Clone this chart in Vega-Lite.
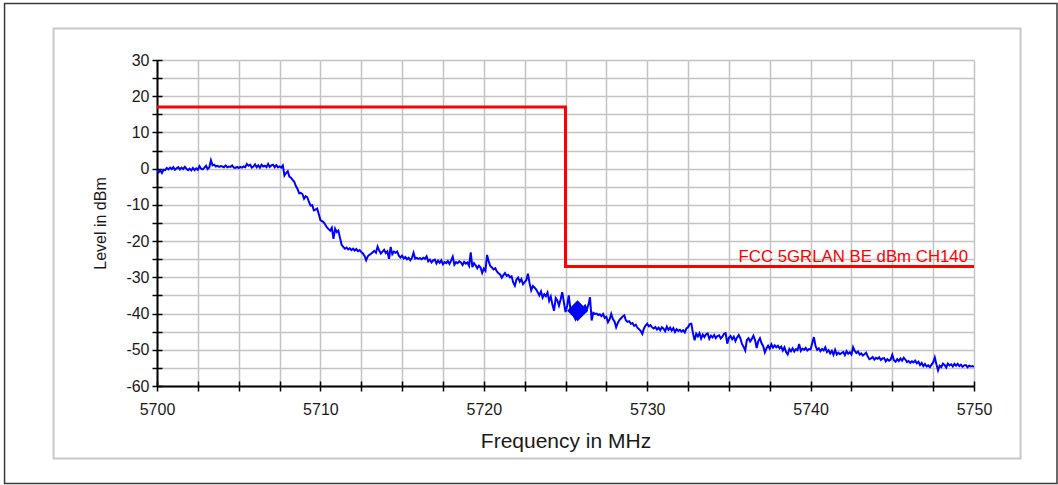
{
  "$schema": "https://vega.github.io/schema/vega-lite/v6.json",
  "autosize": {"type": "none"},
  "padding": {"left": 157, "top": 60, "right": 84, "bottom": 99},
  "width": 817,
  "height": 326,
  "background": "#ffffff",
  "config": {
    "font": "Liberation Sans",
    "view": {"stroke": null}
  },
  "datasets": {
    "limit": [
      {"f": 5700, "v": 17},
      {"f": 5725, "v": -27},
      {"f": 5750, "v": -27}
    ],
    "marker": [
      {"f": 5725.74, "v": -39.2}
    ],
    "label": [
      {"f": 5750, "v": -27, "label": "FCC 5GRLAN BE dBm CH140"}
    ],
    "trace": [
      {"f":5700.0,"v":-0.3},{"f":5700.1,"v":-1.0},{"f":5700.2,"v":-0.5},{"f":5700.3,"v":-1.2},{"f":5700.4,"v":-0.3},{"f":5700.5,"v":-0.4},{"f":5700.6,"v":0.2},{"f":5700.7,"v":-0.2},{"f":5700.8,"v":0.3},{"f":5700.9,"v":-0.1},
      {"f":5701.0,"v":0.4},{"f":5701.1,"v":-0.3},{"f":5701.2,"v":0.1},{"f":5701.3,"v":0.4},{"f":5701.4,"v":-0.2},{"f":5701.5,"v":0.3},{"f":5701.6,"v":-0.1},{"f":5701.7,"v":0.5},{"f":5701.8,"v":0.0},{"f":5701.9,"v":-0.4},
      {"f":5702.0,"v":0.0},{"f":5702.1,"v":-0.5},{"f":5702.2,"v":0.2},{"f":5702.3,"v":-0.4},{"f":5702.4,"v":0.1},{"f":5702.5,"v":-0.3},{"f":5702.6,"v":0.7},{"f":5702.7,"v":0.0},{"f":5702.8,"v":-0.2},{"f":5702.9,"v":0.3},
      {"f":5703.0,"v":0.8},{"f":5703.1,"v":-0.1},{"f":5703.2,"v":0.3},{"f":5703.3,"v":2.3},{"f":5703.4,"v":0.9},{"f":5703.5,"v":1.1},{"f":5703.6,"v":0.6},{"f":5703.7,"v":0.8},{"f":5703.8,"v":0.5},{"f":5703.9,"v":0.7},
      {"f":5704.0,"v":0.6},{"f":5704.1,"v":0.4},{"f":5704.2,"v":0.9},{"f":5704.3,"v":0.4},{"f":5704.4,"v":0.6},{"f":5704.5,"v":0.5},{"f":5704.6,"v":0.9},{"f":5704.7,"v":0.3},{"f":5704.8,"v":0.2},{"f":5704.9,"v":0.5},
      {"f":5705.0,"v":0.2},{"f":5705.1,"v":0.5},{"f":5705.2,"v":0.3},{"f":5705.3,"v":0.6},{"f":5705.4,"v":0.4},{"f":5705.5,"v":1.3},{"f":5705.6,"v":0.8},{"f":5705.7,"v":1.1},{"f":5705.8,"v":0.3},{"f":5705.9,"v":0.6},
      {"f":5706.0,"v":1.2},{"f":5706.1,"v":0.4},{"f":5706.2,"v":0.9},{"f":5706.3,"v":0.3},{"f":5706.4,"v":1.1},{"f":5706.5,"v":0.6},{"f":5706.6,"v":0.8},{"f":5706.7,"v":0.4},{"f":5706.8,"v":1.3},{"f":5706.9,"v":0.5},
      {"f":5707.0,"v":0.9},{"f":5707.1,"v":1.1},{"f":5707.2,"v":0.4},{"f":5707.3,"v":1.0},{"f":5707.4,"v":0.4},{"f":5707.5,"v":0.6},{"f":5707.6,"v":0.3},{"f":5707.7,"v":0.9},{"f":5707.8,"v":-1.9},{"f":5707.9,"v":-1.2},
      {"f":5708.0,"v":-0.7},{"f":5708.1,"v":-2.2},{"f":5708.2,"v":-2.5},{"f":5708.3,"v":-3.1},{"f":5708.4,"v":-3.6},{"f":5708.5,"v":-4.8},{"f":5708.6,"v":-5.6},{"f":5708.7,"v":-6.8},{"f":5708.8,"v":-6.7},{"f":5708.9,"v":-7.0},
      {"f":5709.0,"v":-8.3},{"f":5709.1,"v":-7.6},{"f":5709.2,"v":-7.9},{"f":5709.3,"v":-9.2},{"f":5709.4,"v":-10.2},{"f":5709.5,"v":-10.1},{"f":5709.6,"v":-11.5},{"f":5709.7,"v":-11.3},{"f":5709.8,"v":-11.0},{"f":5709.9,"v":-12.5},
      {"f":5710.0,"v":-14.2},{"f":5710.1,"v":-14.5},{"f":5710.2,"v":-14.8},{"f":5710.3,"v":-15.5},{"f":5710.4,"v":-16.2},{"f":5710.5,"v":-16.7},{"f":5710.6,"v":-17.1},{"f":5710.7,"v":-16.3},{"f":5710.8,"v":-19.4},{"f":5710.9,"v":-16.6},
      {"f":5711.0,"v":-17.5},{"f":5711.1,"v":-17.1},{"f":5711.2,"v":-19.1},{"f":5711.3,"v":-21.0},{"f":5711.4,"v":-21.6},{"f":5711.5,"v":-22.1},{"f":5711.6,"v":-21.8},{"f":5711.7,"v":-22.3},{"f":5711.8,"v":-22.0},{"f":5711.9,"v":-22.5},
      {"f":5712.0,"v":-22.1},{"f":5712.1,"v":-22.6},{"f":5712.2,"v":-22.2},{"f":5712.3,"v":-22.8},{"f":5712.4,"v":-22.5},{"f":5712.5,"v":-23.0},{"f":5712.6,"v":-23.4},{"f":5712.7,"v":-24.1},{"f":5712.8,"v":-25.3},{"f":5712.9,"v":-24.2},
      {"f":5713.0,"v":-23.8},{"f":5713.1,"v":-23.5},{"f":5713.2,"v":-23.1},{"f":5713.3,"v":-22.7},{"f":5713.4,"v":-23.2},{"f":5713.5,"v":-21.5},{"f":5713.6,"v":-22.6},{"f":5713.7,"v":-23.4},{"f":5713.8,"v":-22.9},{"f":5713.9,"v":-22.4},
      {"f":5714.0,"v":-23.3},{"f":5714.1,"v":-22.8},{"f":5714.2,"v":-24.9},{"f":5714.3,"v":-21.6},{"f":5714.4,"v":-23.6},{"f":5714.5,"v":-22.9},{"f":5714.6,"v":-23.2},{"f":5714.7,"v":-22.9},{"f":5714.8,"v":-24.0},{"f":5714.9,"v":-24.5},
      {"f":5715.0,"v":-24.0},{"f":5715.1,"v":-24.8},{"f":5715.2,"v":-24.4},{"f":5715.3,"v":-25.0},{"f":5715.4,"v":-24.6},{"f":5715.5,"v":-25.3},{"f":5715.6,"v":-24.7},{"f":5715.7,"v":-23.2},{"f":5715.8,"v":-24.8},{"f":5715.9,"v":-24.6},
      {"f":5716.0,"v":-24.9},{"f":5716.1,"v":-24.7},{"f":5716.2,"v":-25.0},{"f":5716.3,"v":-24.6},{"f":5716.4,"v":-24.9},{"f":5716.5,"v":-24.2},{"f":5716.6,"v":-25.6},{"f":5716.7,"v":-25.1},{"f":5716.8,"v":-25.9},{"f":5716.9,"v":-25.3},
      {"f":5717.0,"v":-25.1},{"f":5717.1,"v":-26.2},{"f":5717.2,"v":-25.4},{"f":5717.3,"v":-26.0},{"f":5717.4,"v":-25.3},{"f":5717.5,"v":-26.4},{"f":5717.6,"v":-25.8},{"f":5717.7,"v":-26.1},{"f":5717.8,"v":-25.5},{"f":5717.9,"v":-26.3},
      {"f":5718.0,"v":-25.4},{"f":5718.1,"v":-24.3},{"f":5718.2,"v":-26.5},{"f":5718.3,"v":-25.8},{"f":5718.4,"v":-26.1},{"f":5718.5,"v":-25.6},{"f":5718.6,"v":-25.9},{"f":5718.7,"v":-26.6},{"f":5718.8,"v":-25.7},{"f":5718.9,"v":-26.2},
      {"f":5719.0,"v":-25.9},{"f":5719.1,"v":-26.8},{"f":5719.2,"v":-23.1},{"f":5719.3,"v":-27.2},{"f":5719.4,"v":-26.1},{"f":5719.5,"v":-26.7},{"f":5719.6,"v":-27.5},{"f":5719.7,"v":-26.8},{"f":5719.8,"v":-27.3},{"f":5719.9,"v":-28.8},
      {"f":5720.0,"v":-27.6},{"f":5720.1,"v":-28.2},{"f":5720.2,"v":-23.8},{"f":5720.3,"v":-25.6},{"f":5720.4,"v":-26.9},{"f":5720.5,"v":-27.3},{"f":5720.6,"v":-27.8},{"f":5720.7,"v":-27.5},{"f":5720.8,"v":-28.4},{"f":5720.9,"v":-28.9},
      {"f":5721.0,"v":-29.2},{"f":5721.1,"v":-30.1},{"f":5721.2,"v":-29.4},{"f":5721.3,"v":-28.8},{"f":5721.4,"v":-29.6},{"f":5721.5,"v":-29.3},{"f":5721.6,"v":-30.0},{"f":5721.7,"v":-29.7},{"f":5721.8,"v":-31.4},{"f":5721.9,"v":-32.3},
      {"f":5722.0,"v":-30.6},{"f":5722.1,"v":-30.1},{"f":5722.2,"v":-31.2},{"f":5722.3,"v":-30.5},{"f":5722.4,"v":-31.9},{"f":5722.5,"v":-31.3},{"f":5722.6,"v":-30.8},{"f":5722.7,"v":-29.0},{"f":5722.8,"v":-31.6},{"f":5722.9,"v":-33.6},
      {"f":5723.0,"v":-32.4},{"f":5723.1,"v":-32.8},{"f":5723.2,"v":-33.3},{"f":5723.3,"v":-34.1},{"f":5723.4,"v":-35.0},{"f":5723.5,"v":-33.9},{"f":5723.6,"v":-35.6},{"f":5723.7,"v":-34.7},{"f":5723.8,"v":-35.2},{"f":5723.9,"v":-34.2},
      {"f":5724.0,"v":-36.5},{"f":5724.1,"v":-35.3},{"f":5724.2,"v":-37.6},{"f":5724.3,"v":-39.2},{"f":5724.4,"v":-35.7},{"f":5724.5,"v":-36.4},{"f":5724.6,"v":-37.8},{"f":5724.7,"v":-36.1},{"f":5724.8,"v":-34.1},{"f":5724.9,"v":-36.8},
      {"f":5725.0,"v":-39.6},{"f":5725.1,"v":-37.9},{"f":5725.2,"v":-35.0},{"f":5725.3,"v":-38.7},{"f":5725.4,"v":-39.4},{"f":5725.5,"v":-40.5},{"f":5725.6,"v":-41.5},{"f":5725.7,"v":-39.6},{"f":5725.8,"v":-40.2},{"f":5725.9,"v":-38.5},
      {"f":5726.0,"v":-39.1},{"f":5726.1,"v":-38.3},{"f":5726.2,"v":-37.8},{"f":5726.3,"v":-39.0},{"f":5726.4,"v":-37.6},{"f":5726.5,"v":-35.5},{"f":5726.6,"v":-41.9},{"f":5726.7,"v":-39.8},{"f":5726.8,"v":-40.1},{"f":5726.9,"v":-40.0},
      {"f":5727.0,"v":-40.4},{"f":5727.1,"v":-40.2},{"f":5727.2,"v":-40.7},{"f":5727.3,"v":-40.1},{"f":5727.4,"v":-41.2},{"f":5727.5,"v":-40.9},{"f":5727.6,"v":-42.4},{"f":5727.7,"v":-41.6},{"f":5727.8,"v":-40.1},{"f":5727.9,"v":-41.5},
      {"f":5728.0,"v":-42.2},{"f":5728.1,"v":-43.8},{"f":5728.2,"v":-42.6},{"f":5728.3,"v":-41.8},{"f":5728.4,"v":-41.3},{"f":5728.5,"v":-40.8},{"f":5728.6,"v":-40.5},{"f":5728.7,"v":-41.9},{"f":5728.8,"v":-42.3},{"f":5728.9,"v":-42.1},
      {"f":5729.0,"v":-42.8},{"f":5729.1,"v":-42.6},{"f":5729.2,"v":-43.4},{"f":5729.3,"v":-43.1},{"f":5729.4,"v":-43.9},{"f":5729.5,"v":-44.3},{"f":5729.6,"v":-44.8},{"f":5729.7,"v":-45.6},{"f":5729.8,"v":-44.1},{"f":5729.9,"v":-43.3},
      {"f":5730.0,"v":-42.8},{"f":5730.1,"v":-43.5},{"f":5730.2,"v":-43.2},{"f":5730.3,"v":-43.8},{"f":5730.4,"v":-44.1},{"f":5730.5,"v":-43.7},{"f":5730.6,"v":-44.4},{"f":5730.7,"v":-43.9},{"f":5730.8,"v":-44.6},{"f":5730.9,"v":-43.8},
      {"f":5731.0,"v":-44.2},{"f":5731.1,"v":-44.9},{"f":5731.2,"v":-43.6},{"f":5731.3,"v":-44.5},{"f":5731.4,"v":-43.9},{"f":5731.5,"v":-44.7},{"f":5731.6,"v":-44.0},{"f":5731.7,"v":-45.1},{"f":5731.8,"v":-44.3},{"f":5731.9,"v":-44.8},
      {"f":5732.0,"v":-44.5},{"f":5732.1,"v":-45.0},{"f":5732.2,"v":-44.6},{"f":5732.3,"v":-45.2},{"f":5732.4,"v":-44.1},{"f":5732.5,"v":-43.8},{"f":5732.6,"v":-42.9},{"f":5732.7,"v":-42.8},{"f":5732.8,"v":-45.4},{"f":5732.9,"v":-47.4},
      {"f":5733.0,"v":-45.6},{"f":5733.1,"v":-46.3},{"f":5733.2,"v":-45.4},{"f":5733.3,"v":-46.9},{"f":5733.4,"v":-45.8},{"f":5733.5,"v":-46.5},{"f":5733.6,"v":-45.7},{"f":5733.7,"v":-45.5},{"f":5733.8,"v":-47.0},{"f":5733.9,"v":-46.1},
      {"f":5734.0,"v":-46.6},{"f":5734.1,"v":-45.9},{"f":5734.2,"v":-46.8},{"f":5734.3,"v":-46.2},{"f":5734.4,"v":-46.0},{"f":5734.5,"v":-46.9},{"f":5734.6,"v":-46.4},{"f":5734.7,"v":-45.6},{"f":5734.8,"v":-45.4},{"f":5734.9,"v":-48.3},
      {"f":5735.0,"v":-46.7},{"f":5735.1,"v":-46.2},{"f":5735.2,"v":-47.1},{"f":5735.3,"v":-46.4},{"f":5735.4,"v":-47.6},{"f":5735.5,"v":-46.6},{"f":5735.6,"v":-45.9},{"f":5735.7,"v":-46.8},{"f":5735.8,"v":-48.4},{"f":5735.9,"v":-49.2},
      {"f":5736.0,"v":-50.2},{"f":5736.1,"v":-47.3},{"f":5736.2,"v":-46.8},{"f":5736.3,"v":-47.7},{"f":5736.4,"v":-47.0},{"f":5736.5,"v":-46.1},{"f":5736.6,"v":-47.3},{"f":5736.7,"v":-49.5},{"f":5736.8,"v":-47.6},{"f":5736.9,"v":-46.8},
      {"f":5737.0,"v":-48.2},{"f":5737.1,"v":-49.0},{"f":5737.2,"v":-50.7},{"f":5737.3,"v":-49.6},{"f":5737.4,"v":-48.9},{"f":5737.5,"v":-49.7},{"f":5737.6,"v":-48.5},{"f":5737.7,"v":-49.4},{"f":5737.8,"v":-48.8},{"f":5737.9,"v":-49.3},
      {"f":5738.0,"v":-48.9},{"f":5738.1,"v":-49.6},{"f":5738.2,"v":-49.1},{"f":5738.3,"v":-50.2},{"f":5738.4,"v":-49.3},{"f":5738.5,"v":-50.6},{"f":5738.6,"v":-51.3},{"f":5738.7,"v":-49.8},{"f":5738.8,"v":-50.4},{"f":5738.9,"v":-49.6},
      {"f":5739.0,"v":-50.5},{"f":5739.1,"v":-49.8},{"f":5739.2,"v":-50.1},{"f":5739.3,"v":-48.4},{"f":5739.4,"v":-50.3},{"f":5739.5,"v":-49.7},{"f":5739.6,"v":-50.0},{"f":5739.7,"v":-49.5},{"f":5739.8,"v":-50.2},{"f":5739.9,"v":-49.8},
      {"f":5740.0,"v":-49.9},{"f":5740.1,"v":-48.2},{"f":5740.2,"v":-46.5},{"f":5740.3,"v":-48.9},{"f":5740.4,"v":-50.0},{"f":5740.5,"v":-49.6},{"f":5740.6,"v":-50.4},{"f":5740.7,"v":-49.8},{"f":5740.8,"v":-50.2},{"f":5740.9,"v":-49.3},
      {"f":5741.0,"v":-50.6},{"f":5741.1,"v":-50.1},{"f":5741.2,"v":-51.0},{"f":5741.3,"v":-50.3},{"f":5741.4,"v":-51.4},{"f":5741.5,"v":-50.0},{"f":5741.6,"v":-51.3},{"f":5741.7,"v":-50.8},{"f":5741.8,"v":-51.2},{"f":5741.9,"v":-50.9},
      {"f":5742.0,"v":-50.6},{"f":5742.1,"v":-51.5},{"f":5742.2,"v":-50.4},{"f":5742.3,"v":-51.1},{"f":5742.4,"v":-50.7},{"f":5742.5,"v":-51.3},{"f":5742.6,"v":-49.3},{"f":5742.7,"v":-50.3},{"f":5742.8,"v":-50.9},{"f":5742.9,"v":-50.5},
      {"f":5743.0,"v":-51.3},{"f":5743.1,"v":-51.0},{"f":5743.2,"v":-51.6},{"f":5743.3,"v":-51.2},{"f":5743.4,"v":-50.8},{"f":5743.5,"v":-51.9},{"f":5743.6,"v":-52.6},{"f":5743.7,"v":-52.4},{"f":5743.8,"v":-52.0},{"f":5743.9,"v":-52.7},
      {"f":5744.0,"v":-52.2},{"f":5744.1,"v":-52.5},{"f":5744.2,"v":-52.1},{"f":5744.3,"v":-52.8},{"f":5744.4,"v":-52.4},{"f":5744.5,"v":-52.3},{"f":5744.6,"v":-53.2},{"f":5744.7,"v":-52.6},{"f":5744.8,"v":-53.0},{"f":5744.9,"v":-52.7},
      {"f":5745.0,"v":-51.4},{"f":5745.1,"v":-52.9},{"f":5745.2,"v":-53.3},{"f":5745.3,"v":-52.6},{"f":5745.4,"v":-53.1},{"f":5745.5,"v":-52.4},{"f":5745.6,"v":-53.0},{"f":5745.7,"v":-52.2},{"f":5745.8,"v":-52.7},{"f":5745.9,"v":-53.4},
      {"f":5746.0,"v":-53.1},{"f":5746.1,"v":-53.6},{"f":5746.2,"v":-53.2},{"f":5746.3,"v":-53.5},{"f":5746.4,"v":-53.0},{"f":5746.5,"v":-53.7},{"f":5746.6,"v":-53.3},{"f":5746.7,"v":-54.2},{"f":5746.8,"v":-53.6},{"f":5746.9,"v":-54.5},
      {"f":5747.0,"v":-53.9},{"f":5747.1,"v":-54.6},{"f":5747.2,"v":-54.3},{"f":5747.3,"v":-54.8},{"f":5747.4,"v":-54.1},{"f":5747.5,"v":-53.5},{"f":5747.6,"v":-52.1},{"f":5747.7,"v":-54.0},{"f":5747.8,"v":-55.7},{"f":5747.9,"v":-54.4},
      {"f":5748.0,"v":-54.8},{"f":5748.1,"v":-53.8},{"f":5748.2,"v":-54.2},{"f":5748.3,"v":-54.9},{"f":5748.4,"v":-53.8},{"f":5748.5,"v":-54.3},{"f":5748.6,"v":-54.0},{"f":5748.7,"v":-54.6},{"f":5748.8,"v":-53.9},{"f":5748.9,"v":-54.4},
      {"f":5749.0,"v":-53.9},{"f":5749.1,"v":-54.5},{"f":5749.2,"v":-54.1},{"f":5749.3,"v":-54.7},{"f":5749.4,"v":-54.3},{"f":5749.5,"v":-54.2},{"f":5749.6,"v":-54.8},{"f":5749.7,"v":-54.4},{"f":5749.8,"v":-54.6},{"f":5749.9,"v":-54.5},
      {"f":5750.0,"v":-54.7}
    ]
  },
  "resolve": {"axis": {"x": "independent", "y": "independent"}},
  "layer": [
    {
      "data": {"values": [{}]},
      "mark": {"type": "rect", "filled": false, "stroke": "#3a3a3a", "strokeWidth": 1.5, "clip": false},
      "encoding": {
        "x": {"datum": 5690.67, "type": "quantitative", "axis": null, "scale": {"domain": [5700, 5750], "nice": false, "zero": false}},
        "x2": {"datum": 5755.08},
        "y": {"datum": 45.6, "type": "quantitative", "axis": null, "scale": {"domain": [-60, 30], "nice": false, "zero": false}},
        "y2": {"datum": -86.92}
      }
    },
    {
      "data": {"values": [{}]},
      "mark": {"type": "rect", "filled": false, "stroke": "#c8c8c8", "strokeWidth": 2, "clip": false},
      "encoding": {
        "x": {"datum": 5693.67, "type": "quantitative", "axis": null, "scale": {"domain": [5700, 5750], "nice": false, "zero": false}},
        "x2": {"datum": 5752.85},
        "y": {"datum": 38.7, "type": "quantitative", "axis": null, "scale": {"domain": [-60, 30], "nice": false, "zero": false}},
        "y2": {"datum": -80.02}
      }
    },
    {
      "data": {"name": "trace"},
      "mark": {"type": "line", "color": "#0000ff", "strokeWidth": 2, "clip": true},
      "encoding": {
        "x": {
          "field": "f", "type": "quantitative",
          "scale": {"domain": [5700, 5750], "nice": false, "zero": false},
          "axis": {
            "values": [5700, 5702.5, 5705, 5707.5, 5710, 5712.5, 5715, 5717.5, 5720, 5722.5, 5725, 5727.5, 5730, 5732.5, 5735, 5737.5, 5740, 5742.5, 5745, 5747.5, 5750],
            "labelExpr": "datum.value % 10 === 0 ? '' + datum.value : ''",
            "labelOverlap": false, "labelFlush": false,
            "grid": true, "gridColor": "#c4c4c4", "gridWidth": 1.5,
            "domainColor": "#000000", "domainWidth": 2,
            "tickColor": "#000000", "tickWidth": 1.5, "tickSize": 5,
            "labelFontSize": 16, "labelColor": "#1a1a1a", "labelPadding": 10, "labelFont": "Liberation Sans",
            "title": "Frequency in MHz", "titleFontSize": 21, "titleFontWeight": "normal", "titleColor": "#1a1a1a", "titlePadding": 13, "titleFont": "Liberation Sans"
          }
        },
        "y": {
          "field": "v", "type": "quantitative",
          "scale": {"domain": [-60, 30], "nice": false, "zero": false},
          "axis": {
            "values": [-60, -55, -50, -45, -40, -35, -30, -25, -20, -15, -10, -5, 0, 5, 10, 15, 20, 25, 30],
            "labelExpr": "datum.value % 10 === 0 ? '' + datum.value : ''",
            "labelOverlap": false, "labelFlush": false,
            "grid": true, "gridColor": "#c4c4c4", "gridWidth": 1.5,
            "domainColor": "#000000", "domainWidth": 2,
            "tickColor": "#000000", "tickWidth": 1.5, "tickSize": 5,
            "labelFontSize": 16, "labelColor": "#1a1a1a", "labelPadding": 3, "labelFont": "Liberation Sans",
            "title": "Level in dBm", "titleFontSize": 16, "titleFontWeight": "normal", "titleColor": "#1a1a1a", "titlePadding": 17, "titleFont": "Liberation Sans"
          }
        }
      }
    },
    {
      "data": {"name": "limit"},
      "mark": {"type": "line", "color": "#ff0000", "strokeWidth": 3, "interpolate": "step-after", "clip": true},
      "encoding": {
        "x": {"field": "f", "type": "quantitative", "axis": null, "scale": {"domain": [5700, 5750], "nice": false, "zero": false}},
        "y": {"field": "v", "type": "quantitative", "axis": null, "scale": {"domain": [-60, 30], "nice": false, "zero": false}}
      }
    },
    {
      "data": {"name": "marker"},
      "mark": {"type": "point", "shape": "diamond", "filled": true, "color": "#0000ff", "opacity": 1, "size": 440},
      "encoding": {
        "x": {
          "field": "f", "type": "quantitative",
          "scale": {"domain": [5700, 5750], "nice": false, "zero": false},
          "axis": {
            "orient": "bottom", "offset": -5,
            "values": [5700, 5702.5, 5705, 5707.5, 5710, 5712.5, 5715, 5717.5, 5720, 5722.5, 5725, 5727.5, 5730, 5732.5, 5735, 5737.5, 5740, 5742.5, 5745, 5747.5, 5750],
            "domain": false, "labels": false, "grid": false, "title": null,
            "tickColor": "#000000", "tickWidth": 1.5, "tickSize": 5
          }
        },
        "y": {
          "field": "v", "type": "quantitative",
          "scale": {"domain": [-60, 30], "nice": false, "zero": false},
          "axis": {
            "orient": "left", "offset": -5,
            "values": [-60, -55, -50, -45, -40, -35, -30, -25, -20, -15, -10, -5, 0, 5, 10, 15, 20, 25, 30],
            "domain": false, "labels": false, "grid": false, "title": null,
            "tickColor": "#000000", "tickWidth": 1.5, "tickSize": 5
          }
        }
      }
    },
    {
      "data": {"name": "label"},
      "mark": {"type": "text", "align": "right", "baseline": "alphabetic", "dx": -6, "dy": -4, "fontSize": 16.8, "color": "#ff0000", "font": "Liberation Sans"},
      "encoding": {
        "x": {"field": "f", "type": "quantitative", "axis": null, "scale": {"domain": [5700, 5750], "nice": false, "zero": false}},
        "y": {"field": "v", "type": "quantitative", "axis": null, "scale": {"domain": [-60, 30], "nice": false, "zero": false}},
        "text": {"field": "label"}
      }
    }
  ]
}
